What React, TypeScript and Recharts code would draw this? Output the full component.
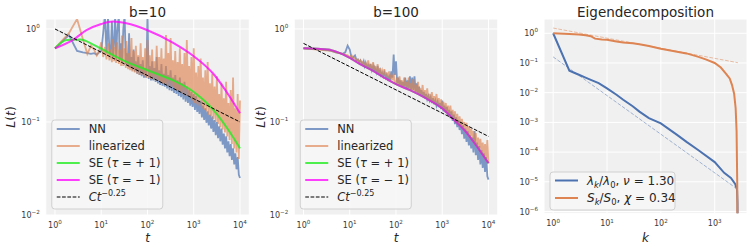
import React from 'react';
import { LineChart, Line, XAxis, YAxis, CartesianGrid } from 'recharts';

const FONT = '"DejaVu Sans", sans-serif';
const W = 754;
const H = 251;

const NN_BLUE = '#4C72B0';
const LIN_ORANGE = '#DD8452';
const SE_PLUS = '#22EE22';
const SE_MINUS = '#FF00FF';
const BG = '#F0F0F0';
const TICK = '#3a3a3a';
const INK = '#262626';

// time steps of the noisy loss curves (same grid for b=10 and b=100)
const tSteps = [
  1, 2, 3, 4, 5, 6, 7, 8, 9, 10, 11, 12, 13, 14, 15, 16, 17, 18, 19, 20,
  21, 22, 24, 25, 27, 28, 30, 32, 34, 35, 38, 40, 42, 45, 47, 50, 53, 56, 60, 63,
  67, 71, 75, 79, 84, 89, 94,
  100, 106, 112, 119, 126, 133, 141, 150, 158, 168, 178, 188, 200, 211, 224, 237, 251, 266, 282, 299,
  316, 335, 355, 376, 398, 422, 447, 473, 501, 531, 562, 596, 631, 668, 708, 750, 794, 841, 891, 944,
  1000, 1060, 1120, 1190, 1260, 1330, 1410, 1500, 1580, 1680, 1780, 1880, 2000, 2110, 2240, 2370,
  2510, 2660, 2820, 2990, 3160, 3350, 3550, 3760, 3980, 4220, 4470, 4730, 5010, 5310, 5620, 5960,
  6310, 6680, 7080, 7500, 7940, 8410, 8910, 9440, 10000,
];

// b=10
const nnB10 = [
  0.62, 0.86, 0.58, 0.56, 0.55, 0.54, 0.55, 0.53, 0.56, 0.58, 0.9, 1.4, 0.55, 1.35, 0.6, 0.52, 1.2, 0.5, 0.75, 1.4,
  0.48, 0.9, 1.4, 0.46, 0.7, 0.44, 1.0, 1.4, 0.42, 0.55, 0.4, 0.9, 0.38, 0.5, 0.36, 0.6, 0.35, 0.45, 0.33, 0.5,
  0.32, 0.42, 0.31, 0.46, 0.3, 0.38, 0.3,
  1.4, 0.29, 0.4, 0.28, 0.45, 0.28, 0.38, 0.27, 0.5, 0.26, 0.36, 0.25, 0.42, 0.245, 0.33, 0.24, 0.4, 0.23, 0.32, 0.22,
  0.36, 0.215, 0.3, 0.205, 0.32, 0.2, 0.28, 0.19, 0.3, 0.185, 0.26, 0.175, 0.27, 0.165, 0.24, 0.16, 0.22, 0.15, 0.21, 0.145,
  0.2, 0.135, 0.19, 0.128, 0.17, 0.122, 0.17, 0.112, 0.15, 0.105, 0.14, 0.098, 0.13, 0.092, 0.12, 0.085,
  0.115, 0.078, 0.105, 0.072, 0.1, 0.067, 0.09, 0.062, 0.085, 0.057, 0.075, 0.052, 0.07, 0.047, 0.062, 0.043,
  0.058, 0.039, 0.052, 0.035, 0.046, 0.031, 0.042, 0.027, 0.025,
];
const linB10 = [
  0.62, 0.9, 1.28, 0.78, 0.54, 0.66, 0.6, 0.52, 0.58, 0.72, 0.5, 0.64, 0.47, 0.7, 0.46, 0.6, 0.44, 0.78, 0.45, 0.64,
  0.43, 0.72, 0.42, 0.6, 0.4, 0.85, 0.4, 0.62, 0.38, 0.74, 0.37, 0.55, 0.36, 0.8, 0.35, 0.58, 0.34, 0.66, 0.33, 0.52,
  0.32, 0.7, 0.32, 0.5, 0.31, 0.62, 0.3,
  0.76, 0.3, 0.52, 0.29, 0.6, 0.29, 0.45, 0.28, 0.66, 0.28, 0.5, 0.27, 0.62, 0.26, 0.48, 0.26, 0.86, 0.25, 0.55, 0.24,
  0.8, 0.24, 0.46, 0.23, 0.58, 0.22, 0.44, 0.22, 0.62, 0.21, 0.42, 0.2, 0.55, 0.19, 0.76, 0.19, 0.4, 0.18, 0.5, 0.17,
  0.62, 0.16, 0.34, 0.155, 0.4, 0.15, 0.48, 0.14, 0.3, 0.135, 0.36, 0.13, 0.44, 0.12, 0.26, 0.115,
  0.33, 0.108, 0.24, 0.1, 0.31, 0.095, 0.2, 0.088, 0.26, 0.083, 0.18, 0.077, 0.27, 0.07, 0.16, 0.064,
  0.22, 0.058, 0.3, 0.052, 0.14, 0.047, 0.2, 0.04, 0.17,
];

// b=100
const nnB100 = [
  0.62, 0.61, 0.6, 0.58, 0.56, 0.55, 0.54, 0.56, 0.66, 0.6, 0.48, 0.5, 0.52, 0.46, 0.47, 0.44, 0.46, 0.43, 0.42, 0.45,
  0.4, 0.43, 0.39, 0.41, 0.37, 0.42, 0.36, 0.4, 0.35, 0.38, 0.34, 0.4, 0.33, 0.36, 0.32, 0.34, 0.31, 0.34, 0.3, 0.32,
  0.29, 0.31, 0.28, 0.35, 0.3, 0.53, 0.32,
  0.45, 0.26, 0.3, 0.25, 0.28, 0.24, 0.27, 0.24, 0.3, 0.23, 0.28, 0.23, 0.31, 0.22, 0.3, 0.22, 0.31, 0.21, 0.26, 0.2,
  0.24, 0.195, 0.22, 0.19, 0.21, 0.18, 0.2, 0.175, 0.19, 0.17, 0.185, 0.16, 0.18, 0.155, 0.17, 0.15, 0.165, 0.145, 0.16, 0.138,
  0.17, 0.13, 0.15, 0.125, 0.145, 0.118, 0.135, 0.11, 0.13, 0.103, 0.12, 0.095, 0.112, 0.088, 0.105, 0.082,
  0.1, 0.074, 0.092, 0.066, 0.085, 0.061, 0.08, 0.056, 0.072, 0.052, 0.068, 0.047, 0.08, 0.044, 0.06, 0.039,
  0.055, 0.035, 0.05, 0.032, 0.046, 0.029, 0.042, 0.026, 0.024,
];
const linB100 = [
  0.62, 0.6, 0.59, 0.58, 0.56, 0.55, 0.54, 0.53, 0.52, 0.5, 0.52, 0.48, 0.49, 0.46, 0.47, 0.44, 0.46, 0.43, 0.44, 0.41,
  0.41, 0.44, 0.39, 0.46, 0.38, 0.42, 0.37, 0.44, 0.36, 0.4, 0.35, 0.42, 0.34, 0.38, 0.33, 0.36, 0.32, 0.37, 0.31, 0.34,
  0.3, 0.35, 0.29, 0.32, 0.28, 0.33, 0.27,
  0.26, 0.3, 0.25, 0.31, 0.25, 0.28, 0.24, 0.3, 0.24, 0.27, 0.23, 0.3, 0.22, 0.26, 0.22, 0.29, 0.21, 0.25, 0.21, 0.27,
  0.2, 0.23, 0.195, 0.25, 0.185, 0.22, 0.18, 0.23, 0.175, 0.2, 0.17, 0.21, 0.165, 0.19, 0.16, 0.2, 0.155, 0.18, 0.148, 0.175,
  0.14, 0.165, 0.135, 0.16, 0.128, 0.15, 0.122, 0.15, 0.115, 0.135, 0.108, 0.13, 0.1, 0.122, 0.095, 0.115,
  0.09, 0.108, 0.085, 0.1, 0.08, 0.098, 0.076, 0.09, 0.071, 0.085, 0.067, 0.08, 0.061, 0.076, 0.056, 0.068,
  0.052, 0.066, 0.047, 0.06, 0.043, 0.058, 0.04, 0.064, 0.036,
];

// SE predictions
const seTPlusB10 = [1, 1.8, 3.5, 6.7, 13, 30, 100, 360, 1000, 2650, 6000, 10000];
const sePlusB10 = [0.62, 0.76, 0.77, 0.68, 0.57, 0.46, 0.36, 0.28, 0.21, 0.135, 0.078, 0.052];
const seTMinusB10 = [1, 2.5, 4.8, 10, 18, 35, 100, 360, 1000, 2650, 6000, 10000];
const seMinusB10 = [0.62, 0.77, 0.97, 1.13, 1.2, 1.15, 0.97, 0.71, 0.51, 0.33, 0.187, 0.124];
const seTB100 = [1, 3.4, 5.6, 10, 18, 30, 50, 100, 200, 400, 1000, 2000, 3000, 6000, 10000];
const seB100 = [0.62, 0.6, 0.56, 0.49, 0.41, 0.36, 0.31, 0.255, 0.22, 0.185, 0.14, 0.1, 0.082, 0.052, 0.036];

// C t^-0.25 guides
const ctT = [1, 10000];
const ctB10 = [1.0, 0.1];
const ctB100 = [0.7, 0.07];

// eigen spectrum
const lamK = [1, 2, 3, 4, 5, 7, 10, 15, 20, 30, 40, 60, 100, 200, 300, 500, 1000, 1500, 2000, 2400, 2600, 2650, 2680];
const lamRatio = [1, 0.055, 0.04, 0.032, 0.027, 0.021, 0.014, 0.0085, 0.0058, 0.0035, 0.0023, 0.0014, 0.00093,
  0.00038, 0.00022, 0.000115, 0.000046, 0.00002, 0.0000135, 0.0000085, 0.0000055, 0.000002, 1e-7];
const sK = [1, 2, 3, 4, 5, 6, 8, 10, 15, 20, 30, 40, 60, 100, 200, 300, 500, 700, 1000, 1300, 1600, 1900, 2100,
  2300, 2450, 2550, 2620, 2660];
const sRatio = [1.0, 0.95, 0.9, 0.85, 0.8, 0.66, 0.62, 0.6, 0.53, 0.49, 0.46, 0.43, 0.37, 0.3, 0.24, 0.21, 0.16,
  0.13, 0.1, 0.07, 0.045, 0.03, 0.018, 0.009, 0.003, 0.0005, 0.00001, 1e-7];
const fitK = [1, 2700];
const lamFit = [0.16, 5.5e-6];
const sFit = [1.5, 0.102];

const tTicks = [1, 10, 100, 1000, 10000];
const lossTicks = [0.01, 0.1, 1];
const kTicks = [1, 10, 100, 1000];
const eigTicks = [1e-6, 1e-5, 1e-4, 1e-3, 1e-2, 1e-1, 1];

const pairs = (xs: number[], ys: number[]) => xs.map((x, i) => ({ x, y: ys[i] }));
const tableB10 = tSteps.map((x, i) => ({ x, nn: nnB10[i], lin: linB10[i] }));
const tableB100 = tSteps.map((x, i) => ({ x, nn: nnB100[i], lin: linB100[i] }));

type Frame = { left: number; right: number; top: number; bottom: number };
const P1: Frame = { left: 45.75, right: 249.25, top: 19, bottom: 215 };
const P2: Frame = { left: 294.25, right: 497.75, top: 19, bottom: 215 };
const P3: Frame = { left: 544, right: 747, top: 19, bottom: 213.3 };

const expLabel = (v: number) => {
  const e = Math.round(Math.log10(v));
  return e < 0 ? '\u2212' + Math.abs(e) : String(e);
};

function XTick(props: any) {
  const { x, payload, baseY } = props;
  return (
    <text x={x} y={baseY} textAnchor="middle" fill={TICK} fontSize={8} fontFamily={FONT}>
      10<tspan dy={-3.8} fontSize={5.6}>{expLabel(payload.value)}</tspan>
    </text>
  );
}

function YTick(props: any) {
  const { y, payload, rightX } = props;
  return (
    <text x={rightX} y={y + 3} textAnchor="end" fill={TICK} fontSize={8} fontFamily={FONT}>
      10<tspan dy={-3.8} fontSize={5.6}>{expLabel(payload.value)}</tspan>
    </text>
  );
}

function LogFrame({ frame, xDomain, yDomain, xTicks, yTicks, data, children }: any) {
  const XH = 30;
  const YW = 40;
  return (
    <div style={{ position: 'absolute', left: 0, top: 0 }}>
      <LineChart
        width={W}
        height={H}
        data={data}
        margin={{ left: frame.left - YW, right: W - frame.right, top: frame.top, bottom: H - frame.bottom - XH }}
      >
        <CartesianGrid stroke="#ffffff" strokeWidth={1} fill={BG} fillOpacity={1} />
        <XAxis
          dataKey="x"
          type="number"
          scale="log"
          domain={xDomain}
          allowDataOverflow
          ticks={xTicks}
          interval={0}
          height={XH}
          axisLine={false}
          tickLine={false}
          tick={(p: any) => <XTick {...p} baseY={frame.bottom + 13} />}
        />
        <YAxis
          type="number"
          scale="log"
          domain={yDomain}
          allowDataOverflow
          ticks={yTicks}
          interval={0}
          width={YW}
          axisLine={false}
          tickLine={false}
          tick={(p: any) => <YTick {...p} rightX={frame.left - 6} />}
        />
        {children}
      </LineChart>
    </div>
  );
}

const common = { dot: false, activeDot: false, isAnimationActive: false } as const;

function LossPanel({ frame, table, sePlus, seMinus, ct }: any) {
  return (
    <LogFrame frame={frame} xDomain={[0.631, 15849]} yDomain={[0.01, 1.28]} xTicks={tTicks} yTicks={lossTicks} data={table}>
      <Line dataKey="nn" type="linear" stroke={NN_BLUE} strokeOpacity={0.7} strokeWidth={1.8} {...common} />
      <Line dataKey="lin" type="linear" stroke={LIN_ORANGE} strokeOpacity={0.65} strokeWidth={1.8} {...common} />
      <Line data={sePlus} dataKey="y" type="monotone" stroke={SE_PLUS} strokeOpacity={0.8} strokeWidth={2} {...common} />
      <Line data={seMinus} dataKey="y" type="monotone" stroke={SE_MINUS} strokeOpacity={0.75} strokeWidth={2} {...common} />
      <Line data={ct} dataKey="y" type="linear" stroke="#000" strokeWidth={1} strokeDasharray="3.7 1.6" {...common} />
    </LogFrame>
  );
}

type Row = { color: string; opacity: number; width: number; dash?: string; label: React.ReactNode };

function LegendBox({ x, y, w, h, rows, firstY, step, fontSize }: any) {
  return (
    <g>
      <rect x={x} y={y} width={w} height={h} rx={3} fill="#F7F7F7" fillOpacity={0.85} stroke="#D0D0D0" strokeWidth={1} />
      {rows.map((r: Row, i: number) => {
        const cy = firstY + i * step;
        return (
          <g key={i}>
            <line x1={x + 5} x2={x + 28} y1={cy} y2={cy} stroke={r.color} strokeOpacity={r.opacity} strokeWidth={r.width} strokeDasharray={r.dash} />
            <text x={x + 37} y={cy + fontSize * 0.36} fontSize={fontSize} fill={INK}>
              {r.label}
            </text>
          </g>
        );
      })}
    </g>
  );
}

const lossRows: Row[] = [
  { color: NN_BLUE, opacity: 0.7, width: 2, label: 'NN' },
  { color: LIN_ORANGE, opacity: 0.65, width: 2, label: 'linearized' },
  {
    color: SE_PLUS, opacity: 0.8, width: 2,
    label: (<>SE (<tspan fontStyle="italic">τ</tspan> = + 1)</>),
  },
  {
    color: SE_MINUS, opacity: 0.75, width: 2,
    label: (<>SE (<tspan fontStyle="italic">τ</tspan> = − 1)</>),
  },
  {
    color: '#000', opacity: 1, width: 1, dash: '3.7 1.6',
    label: (<><tspan fontStyle="italic">Ct</tspan><tspan dy={-5} fontSize={8}>−0.25</tspan></>),
  },
];

const eigRows: Row[] = [
  {
    color: NN_BLUE, opacity: 1, width: 2,
    label: (
      <>
        <tspan fontStyle="italic">λ</tspan><tspan dy={3} fontSize={8.4} fontStyle="italic">k</tspan>
        <tspan dy={-3}>/</tspan><tspan fontStyle="italic">λ</tspan><tspan dy={3} fontSize={8.4}>0</tspan>
        <tspan dy={-3}>, </tspan><tspan fontStyle="italic">ν</tspan><tspan> = 1.30</tspan>
      </>
    ),
  },
  {
    color: LIN_ORANGE, opacity: 1, width: 2,
    label: (
      <>
        <tspan fontStyle="italic">S</tspan><tspan dy={3} fontSize={8.4} fontStyle="italic">k</tspan>
        <tspan dy={-3}>/</tspan><tspan fontStyle="italic">S</tspan><tspan dy={3} fontSize={8.4}>0</tspan>
        <tspan dy={-3}>, </tspan><tspan fontStyle="italic">χ</tspan><tspan> = 0.34</tspan>
      </>
    ),
  },
];

export default function App() {
  return (
    <div style={{ position: 'absolute', left: 0, top: 0, width: W, height: H, background: '#fff', fontFamily: FONT }}>
      <LossPanel
        frame={P1}
        table={tableB10}
        sePlus={pairs(seTPlusB10, sePlusB10)}
        seMinus={pairs(seTMinusB10, seMinusB10)}
        ct={pairs(ctT, ctB10)}
      />
      <LossPanel
        frame={P2}
        table={tableB100}
        sePlus={pairs(seTB100, seB100)}
        seMinus={pairs(seTB100, seB100)}
        ct={pairs(ctT, ctB100)}
      />
      <LogFrame frame={P3} xDomain={[0.676, 3981]} yDomain={[8.7e-7, 3.02]} xTicks={kTicks} yTicks={eigTicks} data={[]}>
        <Line data={pairs(fitK, lamFit)} dataKey="y" type="linear" stroke={NN_BLUE} strokeOpacity={0.5} strokeWidth={1} strokeDasharray="3.7 1.6" {...common} />
        <Line data={pairs(fitK, sFit)} dataKey="y" type="linear" stroke={LIN_ORANGE} strokeOpacity={0.5} strokeWidth={1} strokeDasharray="3.7 1.6" {...common} />
        <Line data={pairs(lamK, lamRatio)} dataKey="y" type="linear" stroke={NN_BLUE} strokeWidth={2} {...common} />
        <Line data={pairs(sK, sRatio)} dataKey="y" type="linear" stroke={LIN_ORANGE} strokeWidth={2} {...common} />
      </LogFrame>

      <svg width={W} height={H} style={{ position: 'absolute', left: 0, top: 0 }} fontFamily={FONT}>
        <text x={147.5} y={17} textAnchor="middle" fontSize={13.5} fill={INK}>b=10</text>
        <text x={396} y={17} textAnchor="middle" fontSize={13.5} fill={INK}>b=100</text>
        <text x={645.5} y={17} textAnchor="middle" fontSize={13.5} fill={INK}>Eigendecomposition</text>

        <text transform="translate(15,117) rotate(-90)" textAnchor="middle" fontSize={12.5} fill={INK}>
          <tspan fontStyle="italic">L</tspan>(<tspan fontStyle="italic">t</tspan>)
        </text>
        <text transform="translate(264.5,117) rotate(-90)" textAnchor="middle" fontSize={12.5} fill={INK}>
          <tspan fontStyle="italic">L</tspan>(<tspan fontStyle="italic">t</tspan>)
        </text>
        <text x={147.5} y={241.5} textAnchor="middle" fontSize={12} fontStyle="italic" fill={INK}>t</text>
        <text x={396} y={241.5} textAnchor="middle" fontSize={12} fontStyle="italic" fill={INK}>t</text>
        <text x={645.5} y={241.5} textAnchor="middle" fontSize={12} fontStyle="italic" fill={INK}>k</text>

        <LegendBox x={P1.left + 6} y={120} w={111} h={89} rows={lossRows} firstY={129} step={17} fontSize={11.5} />
        <LegendBox x={P2.left + 6} y={120} w={111} h={89} rows={lossRows} firstY={129} step={17} fontSize={11.5} />
        <LegendBox x={P3.left + 6} y={172} w={125} h={38} rows={eigRows} firstY={180.5} step={17.5} fontSize={12} />
      </svg>
    </div>
  );
}
